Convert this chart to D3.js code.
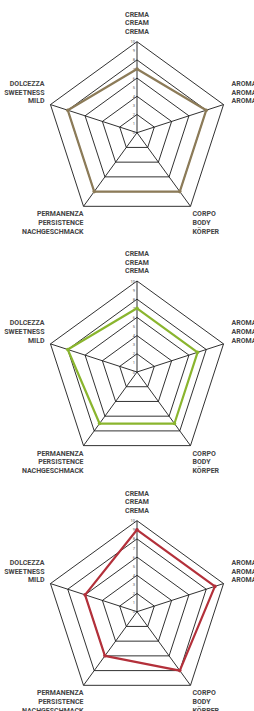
<!DOCTYPE html>
<html>
<head>
<meta charset="utf-8">
<script src="https://cdn.jsdelivr.net/npm/d3@7"></script>
<style>
  body { margin: 0; background: #fff; }
  text { font-family: "Liberation Sans Narrow", "Roboto", sans-serif; font-weight: bold; fill: #444; }
</style>
</head>
<body>
<div id="chart"></div>
<script>
// axis labels, three languages each, clockwise from top
const axes = [
    ["CREMA", "CREAM", "CREMA"],
    ["AROMA", "AROMA", "AROMA"],
    ["CORPO", "BODY", "KÖRPER"],
    ["PERMANENZA", "PERSISTENCE", "NACHGESCHMACK"],
    ["DOLCEZZA", "SWEETNESS", "MILD"]
];
const ticks = [0, 1, 2, 3, 4, 5, 6, 7, 8, 9, 10];
const rings = [2, 4, 6, 8, 10];

const values1 = [7, 8, 8, 8, 8];
const values2 = [7, 7, 7, 7, 8];
const values3 = [9, 9, 8, 6, 6];
const colors = ["#8c7b58", "#8ab52e", "#b3303a"];

const width = 254, height = 711;
const cx = 137;
const centersY = [132.7, 372, 611.7];

const svg = d3.select("#chart")
    .append("svg")
    .attr("width", width)
    .attr("height", height);

const r = d3.scaleLinear().domain([0, 10]).range([0, 91]);
const angle = i => i * 2 * Math.PI / axes.length;
const pt = (i, v) => [Math.sin(angle(i)) * r(v), -Math.cos(angle(i)) * r(v)];

// label placement per axis: dx, dy of first baseline, anchor
const labelPos = [
    { dx: 0, dy: -25, anchor: "middle" },
    { dx: 8, dy: -18.5, anchor: "start" },
    { dx: 2, dy: 10, anchor: "start" },
    { dx: 0, dy: 10, anchor: "end" },
    { dx: -6, dy: -18.5, anchor: "end" }
];

function radar(values, color, cy) {
    const g = svg.append("g").attr("transform", `translate(${cx},${cy})`);

    // rings
    g.selectAll(".ring")
        .data(rings)
        .enter().append("polygon")
        .attr("points", v => axes.map((a, i) => pt(i, v).join(",")).join(" "))
        .attr("fill", "none")
        .attr("stroke", "#1a1a1a")
        .attr("stroke-width", 0.9);

    // spokes
    g.selectAll(".spoke")
        .data(axes)
        .enter().append("line")
        .attr("x1", 0).attr("y1", 0)
        .attr("x2", (a, i) => pt(i, 10)[0])
        .attr("y2", (a, i) => pt(i, 10)[1])
        .attr("stroke", "#1a1a1a")
        .attr("stroke-width", 0.9);

    // tick numbers along top axis
    g.selectAll(".tick")
        .data(ticks)
        .enter().append("text")
        .attr("x", -2)
        .attr("y", d => -r(d) + 1.5)
        .attr("text-anchor", "end")
        .style("font-size", "4px")
        .style("font-weight", "normal")
        .style("fill", "#555")
        .text(d => d);

    // data polygon
    g.append("polygon")
        .attr("points", values.map((v, i) => pt(i, v).join(",")).join(" "))
        .attr("fill", "none")
        .attr("stroke", color)
        .attr("stroke-width", 2.2)
        .attr("stroke-linejoin", "round");

    g.selectAll(".dot")
        .data(values)
        .enter().append("circle")
        .attr("cx", (v, i) => pt(i, v)[0])
        .attr("cy", (v, i) => pt(i, v)[1])
        .attr("r", 1.8)
        .attr("fill", color);

    // axis labels
    axes.forEach((lines, i) => {
        const [vx, vy] = pt(i, 10);
        const p = labelPos[i];
        const t = g.append("text")
            .attr("text-anchor", p.anchor)
            .style("font-size", "7px");
        lines.forEach((s, k) => {
            t.append("tspan")
                .attr("x", vx + p.dx)
                .attr("y", vy + p.dy + k * 8.7)
                .text(s);
        });
    });
}

radar(values1, colors[0], centersY[0]);
radar(values2, colors[1], centersY[1]);
radar(values3, colors[2], centersY[2]);
</script>
</body>
</html>
